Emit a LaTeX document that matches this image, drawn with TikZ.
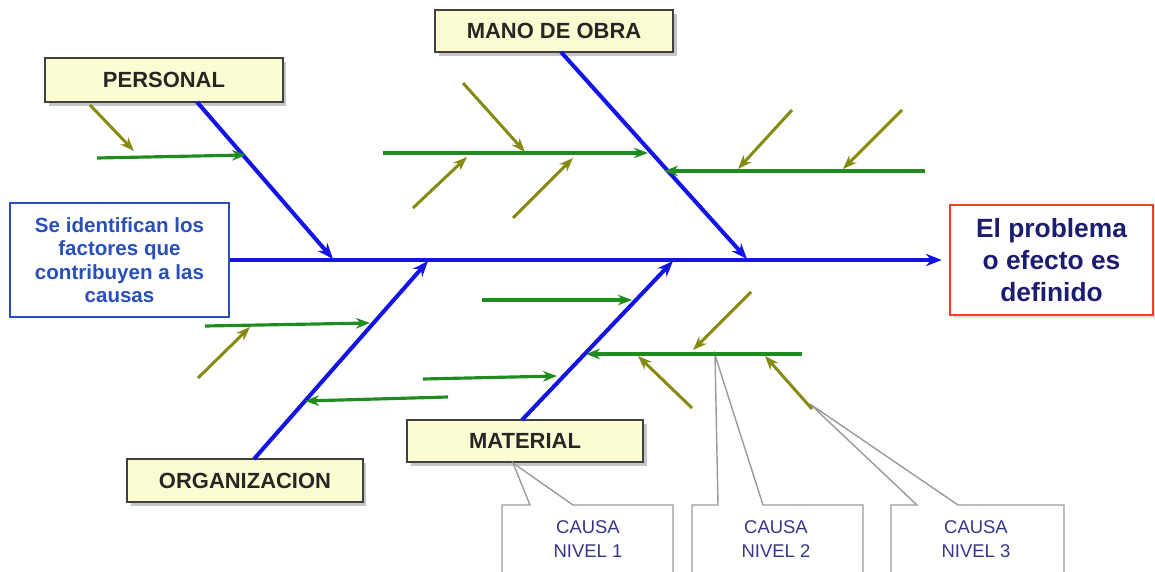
\documentclass[tikz,border=0pt]{standalone}
\usepackage{fontspec}
\setmainfont{Liberation Sans}
\usetikzlibrary{arrows.meta,shadows}
\definecolor{bblue}{HTML}{1414E6}
\definecolor{bgreen}{HTML}{1E8C1E}
\definecolor{olive2}{HTML}{858A10}
\definecolor{boxfill}{HTML}{FCFCD2}
\definecolor{navy}{HTML}{1C1C70}
\definecolor{lbblue}{HTML}{2A4FB8}
\definecolor{cgray}{HTML}{9A9A9A}
\definecolor{ctext}{HTML}{35358A}
\definecolor{rred}{HTML}{F0402A}
\begin{document}
\begin{tikzpicture}[x=0.02cm,y=-0.02cm,
  catbox/.style={draw=black!75,line width=1.1pt,fill=boxfill,minimum width=4.72cm,minimum height=0.85cm,
    font=\fontsize{12.5}{15}\selectfont\bfseries,text=black!85,
    drop shadow={shadow xshift=2pt,shadow yshift=-2pt,fill=black!45}},
  bone/.style={draw=bblue,line width=2.3pt,-{Stealth[length=9pt,width=7pt]}},
  spine/.style={draw=bblue,line width=1.8pt,-{Stealth[length=9pt,width=7pt]}},
  sub/.style={draw=bgreen,line width=1.8pt,-{Stealth[length=8pt,width=6pt]}},
  subsub/.style={draw=olive2,line width=1.7pt,-{Stealth[length=8pt,width=6pt]}},
  callout/.style={draw=cgray,line width=0.8pt,fill=white},
  ctxt/.style={text=ctext,font=\fontsize{10.5}{13.6}\selectfont,align=center}
]
\useasboundingbox (0,0) rectangle (1155,571);

% main boxes
\node[draw=lbblue,line width=1.4pt,fill=white,minimum width=4.38cm,minimum height=2.28cm,
  text=lbblue,font=\fontsize{11.7}{13.3}\selectfont\bfseries,align=center] (cause) at (119.5,260)
  {Se identifican los\\factores que\\contribuyen a las\\causas};
\node[draw=rred,line width=1.4pt,fill=white,minimum width=4.06cm,minimum height=2.2cm,
  text=navy,font=\fontsize{15}{18.4}\selectfont\bfseries,align=center,
  drop shadow={shadow xshift=1.5pt,shadow yshift=-1.5pt,fill=black!25}] (effect) at (1051.5,260)
  {El problema\\o efecto es\\definido};

% category boxes
\node[catbox,minimum width=4.76cm,minimum height=0.88cm] (personal) at (164,80) {PERSONAL};
\node[catbox,minimum width=4.76cm,minimum height=0.84cm] (mano) at (554,31) {MANO DE OBRA};
\node[catbox,minimum width=4.72cm,minimum height=0.86cm] (org) at (245,480.5) {ORGANIZACION};
\node[catbox,minimum width=4.72cm,minimum height=0.84cm] (mat) at (525,441) {MATERIAL};

% spine
\draw[spine,shorten >=4pt] (cause.east) -- (effect.west);

% bone coordinates
\coordinate (pS) at (197,102);  \coordinate (pE) at (333,259);
\coordinate (mS) at (561,52);   \coordinate (mE) at (747,259);
\coordinate (oS) at (254,459);  \coordinate (oE) at (428,261);
\coordinate (tS) at (522,420);  \coordinate (tE) at (673,261);

% level 2 coordinates
\coordinate (g1a) at (97,158);  \coordinate (g1b) at (246,155);
\coordinate (g2a) at (383,153); \coordinate (g2b) at (648,153);
\coordinate (g3a) at (925,171); \coordinate (g3b) at (664,171);
\coordinate (g4a) at (205,326); \coordinate (g4b) at (370,323);
\coordinate (g5a) at (448,397); \coordinate (g5b) at (305,401);
\coordinate (g6a) at (482,300); \coordinate (g6b) at (632,300);
\coordinate (g7a) at (423,379); \coordinate (g7b) at (557,376);
\coordinate (g8a) at (802,354); \coordinate (g8b) at (586,354);

% level 3 coordinates
\coordinate (y1a) at (90,105);  \coordinate (y1b) at (134,151);
\coordinate (y2a) at (463,83);  \coordinate (y2b) at (525,152);
\coordinate (y3a) at (413,208); \coordinate (y3b) at (467,157);
\coordinate (y4a) at (513,218); \coordinate (y4b) at (573,158);
\coordinate (y5a) at (792,110); \coordinate (y5b) at (738,169);
\coordinate (y6a) at (902,110); \coordinate (y6b) at (843,169);
\coordinate (y7a) at (198,378); \coordinate (y7b) at (250,327);
\coordinate (y8a) at (751,292); \coordinate (y8b) at (693,350);
\coordinate (y9a) at (692,408); \coordinate (y9b) at (638,356);
\coordinate (y10a) at (812,409); \coordinate (y10b) at (765,356);

% callouts
\coordinate (c1t) at (513,463);
\coordinate (c2t) at (715,355);
\coordinate (c3t) at (810,404);
\draw[callout] (502,573) -- (502,505) -- (530,505) -- (c1t) -- (573,505) -- (673,505) -- (673,573);
\draw[callout] (692,573) -- (692,505) -- (718,505) -- (c2t) -- (763,505) -- (863,505) -- (863,573);
\draw[callout] (891,573) -- (891,505) -- (917,505) -- (c3t) -- (958,505) -- (1064,505) -- (1064,573);
\node[ctxt] (n1) at (588,539) {CAUSA\\NIVEL 1};
\node[ctxt] (n2) at (776,539) {CAUSA\\NIVEL 2};
\node[ctxt] (n3) at (976,539) {CAUSA\\NIVEL 3};

% bones
\draw[bone] (pS) -- (pE);
\draw[bone] (mS) -- (mE);
\draw[bone] (oS) -- (oE);
\draw[bone] (tS) -- (tE);

% level 2
\foreach \i in {1,...,8} { \draw[sub] (g\i a) -- (g\i b); }

% level 3
\foreach \i in {1,...,10} { \draw[subsub] (y\i a) -- (y\i b); }

\end{tikzpicture}
\end{document}
